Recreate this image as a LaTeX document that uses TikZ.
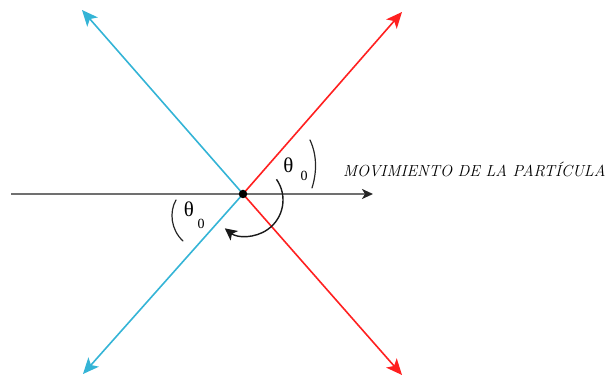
\documentclass[tikz,border=0pt]{standalone}
\usepackage{fontspec}
\newfontfamily\grfont{Liberation Serif}
\usetikzlibrary{arrows.meta,calc}
\definecolor{rayred}{RGB}{255,32,32}
\definecolor{rayblue}{RGB}{52,180,214}
\definecolor{axisgray}{RGB}{112,112,112}
\begin{document}
\begin{tikzpicture}[x=1pt,y=1pt,
  ray/.style={line width=1.6pt,-{Stealth[length=16pt,width=14pt,inset=4pt]}},
  axisline/.style={axisgray,line width=2pt,-{Stealth[length=11pt,width=10pt,inset=3pt,color=black!85]}},
  bracket/.style={black!85,line width=1.2pt,line cap=round},
  curvearrow/.style={black!90,line width=1.4pt,-{Stealth[length=12pt,width=12pt,inset=3pt]}},
  thetalbl/.style={inner sep=0pt,font=\grfont\fontsize{21}{21}\selectfont},
  sublbl/.style={inner sep=0pt,font=\grfont\fontsize{14}{14}\selectfont},
  dotnode/.style={circle,fill=black,inner sep=0pt,minimum size=8.5pt}]
\useasboundingbox (0,0) rectangle (610,379);
\coordinate (c) at (243,185);
\coordinate (tl) at (82,369);
\coordinate (tr) at (402,367);
\coordinate (bl) at (83,5);
\coordinate (br) at (402,4);
\coordinate (l) at (11,185);
\coordinate (r) at (373,185);
\draw[axisline] (l) -- (r);
\draw[ray,rayblue] (c) -- (tl);
\draw[ray,rayblue] (c) -- (bl);
\draw[ray,rayred] (c) -- (tr);
\draw[ray,rayred] (c) -- (br);
\node[dotnode] (dot) at (c) {};
% labels
\node[anchor=base west,inner sep=0pt,font=\fontsize{16}{19}\selectfont\itshape] (cap) at (343,202.7) {MOVIMIENTO DE LA PARTÍCULA};
\node[thetalbl] (th1) at (288.5,214) {θ};
\node[sublbl] (s1) at (304,203) {0};
\node[thetalbl] (th2) at (189,169.5) {θ};
\node[sublbl] (s2) at (201,155) {0};
% brackets
\draw[bracket] (310,239) .. controls (317,224) and (317,207) .. (312,191);
\draw[bracket] (176,179) .. controls (169,167) and (171,149) .. (183,138);
% curved arrow
\coordinate (ac) at (247,179);
\draw[curvearrow] ($(ac)+(35:36)$) arc[start angle=35,end angle=-128,radius=36];
\end{tikzpicture}
\end{document}
